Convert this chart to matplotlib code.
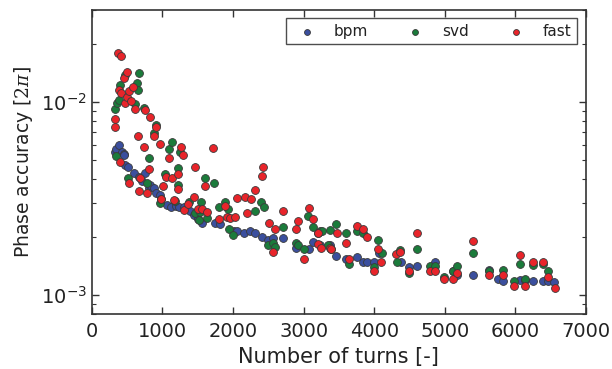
import matplotlib
matplotlib.use("Agg")
import matplotlib.pyplot as plt

# ---- data (number of turns, phase accuracy in units of 2*pi) ----
bpm_turns = [326, 340, 383, 425, 453, 460, 468, 510, 595, 666, 709, 751, 808, 822,
             879, 907, 964, 1063, 1119, 1190, 1233, 1304, 1389, 1445, 1502, 1559,
             1743, 1814, 2012, 2055, 2154, 2239, 2310, 2409, 2494, 2565, 2706, 2891,
             3075, 3132, 3231, 3372, 3387, 3457, 3599, 3755, 3840, 3897, 3996, 4067,
             4378, 4492, 4605, 4860, 5115, 5172, 5399, 5625, 5753, 5824, 6065, 6136,
             6249, 6391, 6462, 6547]
bpm_acc = [0.00553, 0.00572, 0.00600, 0.00553, 0.00540, 0.00533, 0.00473, 0.00462,
           0.00430, 0.00410, 0.00391, 0.00430, 0.00360, 0.00373, 0.00360, 0.00340,
           0.00332, 0.00294, 0.00287, 0.00291, 0.00287, 0.00287, 0.00274, 0.00261,
           0.00249, 0.00237, 0.00237, 0.00235, 0.00216, 0.00214, 0.00211, 0.00216,
           0.00209, 0.00201, 0.00194, 0.00199, 0.00199, 0.00176, 0.00173, 0.00189,
           0.00183, 0.00183, 0.00174, 0.00159, 0.00155, 0.00157, 0.00149, 0.00149,
           0.00148, 0.00165, 0.00148, 0.00140, 0.00142, 0.00148, 0.00133, 0.00127,
           0.00127, 0.00136, 0.00122, 0.00118, 0.00120, 0.00120, 0.00118, 0.00118,
           0.00118, 0.00117]

svd_turns = [326, 340, 354, 383, 397, 468, 510, 609, 638, 652, 666, 737, 779, 808,
             879, 907, 964, 978, 1034, 1091, 1134, 1176, 1219, 1225, 1247, 1375,
             1460, 1516, 1530, 1545, 1601, 1630, 1729, 1800, 1885, 1927, 1941, 1998,
             2310, 2395, 2437, 2494, 2565, 2593, 2706, 2891, 2919, 3004, 3061, 3132,
             3202, 3231, 3259, 3344, 3372, 3457, 3599, 3642, 3755, 3840, 3996, 4053,
             4109, 4322, 4364, 4492, 4605, 4789, 4860, 4988, 5115, 5172, 5399, 5625,
             5824, 5980, 6065, 6136, 6249, 6391, 6462]
svd_acc = [0.00920, 0.00527, 0.00988, 0.01024, 0.01223, 0.01378, 0.00405, 0.00976,
           0.01253, 0.01153, 0.01411, 0.00931, 0.00382, 0.00515, 0.00692, 0.00761,
           0.00301, 0.00316, 0.00425, 0.00572, 0.00622, 0.00308, 0.00457, 0.00373,
           0.00553, 0.00305, 0.00267, 0.00246, 0.00270, 0.00305, 0.00405, 0.00252,
           0.00382, 0.00287, 0.00305, 0.00280, 0.00221, 0.00204, 0.00274, 0.00305,
           0.00287, 0.00183, 0.00187, 0.00178, 0.00226, 0.00187, 0.00183, 0.00174,
           0.00258, 0.00226, 0.00209, 0.00216, 0.00214, 0.00183, 0.00219, 0.00235,
           0.00209, 0.00146, 0.00214, 0.00211, 0.00140, 0.00194, 0.00165, 0.00148,
           0.00171, 0.00131, 0.00173, 0.00142, 0.00142, 0.00125, 0.00133, 0.00142,
           0.00165, 0.00133, 0.00136, 0.00118, 0.00146, 0.00121, 0.00144, 0.00146,
           0.00133]

fast_turns = [326, 330, 368, 383, 397, 411, 415, 453, 468, 496, 500, 524, 528, 553,
              581, 609, 652, 666, 680, 737, 751, 779, 808, 822, 879, 907, 964, 978,
              1006, 1049, 1091, 1134, 1162, 1219, 1225, 1261, 1289, 1304, 1360, 1445,
              1460, 1502, 1559, 1601, 1630, 1715, 1800, 1885, 1913, 1955, 2026, 2055,
              2168, 2196, 2253, 2310, 2409, 2423, 2508, 2565, 2593, 2706, 2891, 2919,
              3004, 3075, 3132, 3202, 3210, 3245, 3372, 3387, 3472, 3599, 3642, 3755,
              3840, 3897, 3996, 4053, 4095, 4308, 4364, 4492, 4605, 4789, 4860, 4988,
              5115, 5172, 5399, 5625, 5824, 5980, 6065, 6136, 6249, 6391, 6462, 6561]
fast_acc = [0.00817, 0.00744, 0.01788, 0.01153, 0.00490, 0.01726, 0.01113, 0.01330,
            0.00988, 0.01428, 0.01061, 0.01139, 0.00382, 0.01012, 0.01195, 0.00920,
            0.00668, 0.00348, 0.00405, 0.00586, 0.00909, 0.00340, 0.00451, 0.00837,
            0.00668, 0.00744, 0.00607, 0.00316, 0.00369, 0.00410, 0.00515, 0.00405,
            0.00312, 0.00425, 0.00356, 0.00586, 0.00533, 0.00277, 0.00298, 0.00324,
            0.00462, 0.00280, 0.00280, 0.00369, 0.00270, 0.00579, 0.00249, 0.00291,
            0.00255, 0.00252, 0.00255, 0.00320, 0.00324, 0.00267, 0.00316, 0.00352,
            0.00415, 0.00462, 0.00237, 0.00167, 0.00221, 0.00274, 0.00221, 0.00243,
            0.00155, 0.00284, 0.00249, 0.00211, 0.00185, 0.00176, 0.00176, 0.00174,
            0.00211, 0.00187, 0.00155, 0.00229, 0.00221, 0.00201, 0.00134, 0.00174,
            0.00149, 0.00163, 0.00167, 0.00134, 0.00211, 0.00133, 0.00133, 0.00121,
            0.00121, 0.00131, 0.00192, 0.00127, 0.00128, 0.00112, 0.00161, 0.00112,
            0.00149, 0.00148, 0.00125, 0.00109]

series_names = ["bpm", "svd", "fast"]
series_colors = ["#3b4f9e", "#1b7b3b", "#e8242a"]

plt.rcParams['font.family'] = ['DejaVu Sans']
plt.rcParams['mathtext.fontset'] = 'dejavuserif'

fig = plt.figure(figsize=(6.12, 3.69), dpi=100)
ax = fig.add_axes([0.150, 0.149, 0.8075, 0.824])

data = [(bpm_turns, bpm_acc), (svd_turns, svd_acc), (fast_turns, fast_acc)]
for (xs, ys), name, col in zip(data, series_names, series_colors):
    ax.scatter(xs, ys, s=32, c=col, edgecolors="#3a3a3a", linewidths=0.6,
               label=name, zorder=3)

ax.set_yscale("log")
ax.set_xlim(0, 7000)
ax.set_ylim(8e-4, 3e-2)
ax.set_xticks([0, 1000, 2000, 3000, 4000, 5000, 6000, 7000])

for s in ax.spines.values():
    s.set_color("#333333")
    s.set_linewidth(1.2)
ax.tick_params(which="both", direction="in", top=True, right=True,
               labelsize=14, colors="#333333", labelcolor="#222222")
ax.tick_params(which="major", length=5, width=1.0)
ax.tick_params(which="minor", length=3, width=0.8)
ax.tick_params(axis="x", pad=6)

ax.set_xlabel("Number of turns [-]", fontsize=15, color="#222222", labelpad=4)
ax.set_ylabel(r"Phase accuracy [$2\pi$]", fontsize=13.5, color="#222222", labelpad=4)

leg = ax.legend(loc="upper right", ncol=3, fancybox=False, frameon=True,
                markerscale=0.75, fontsize=11, borderpad=0.35, columnspacing=2.07,
                handletextpad=0.77, borderaxespad=0.0,
                bbox_to_anchor=(0.982, 0.973))
leg.get_frame().set_edgecolor("#222222")
leg.get_frame().set_linewidth(1.0)
for t in leg.get_texts():
    t.set_color("#222222")

fig.savefig("out.png", dpi=100)
